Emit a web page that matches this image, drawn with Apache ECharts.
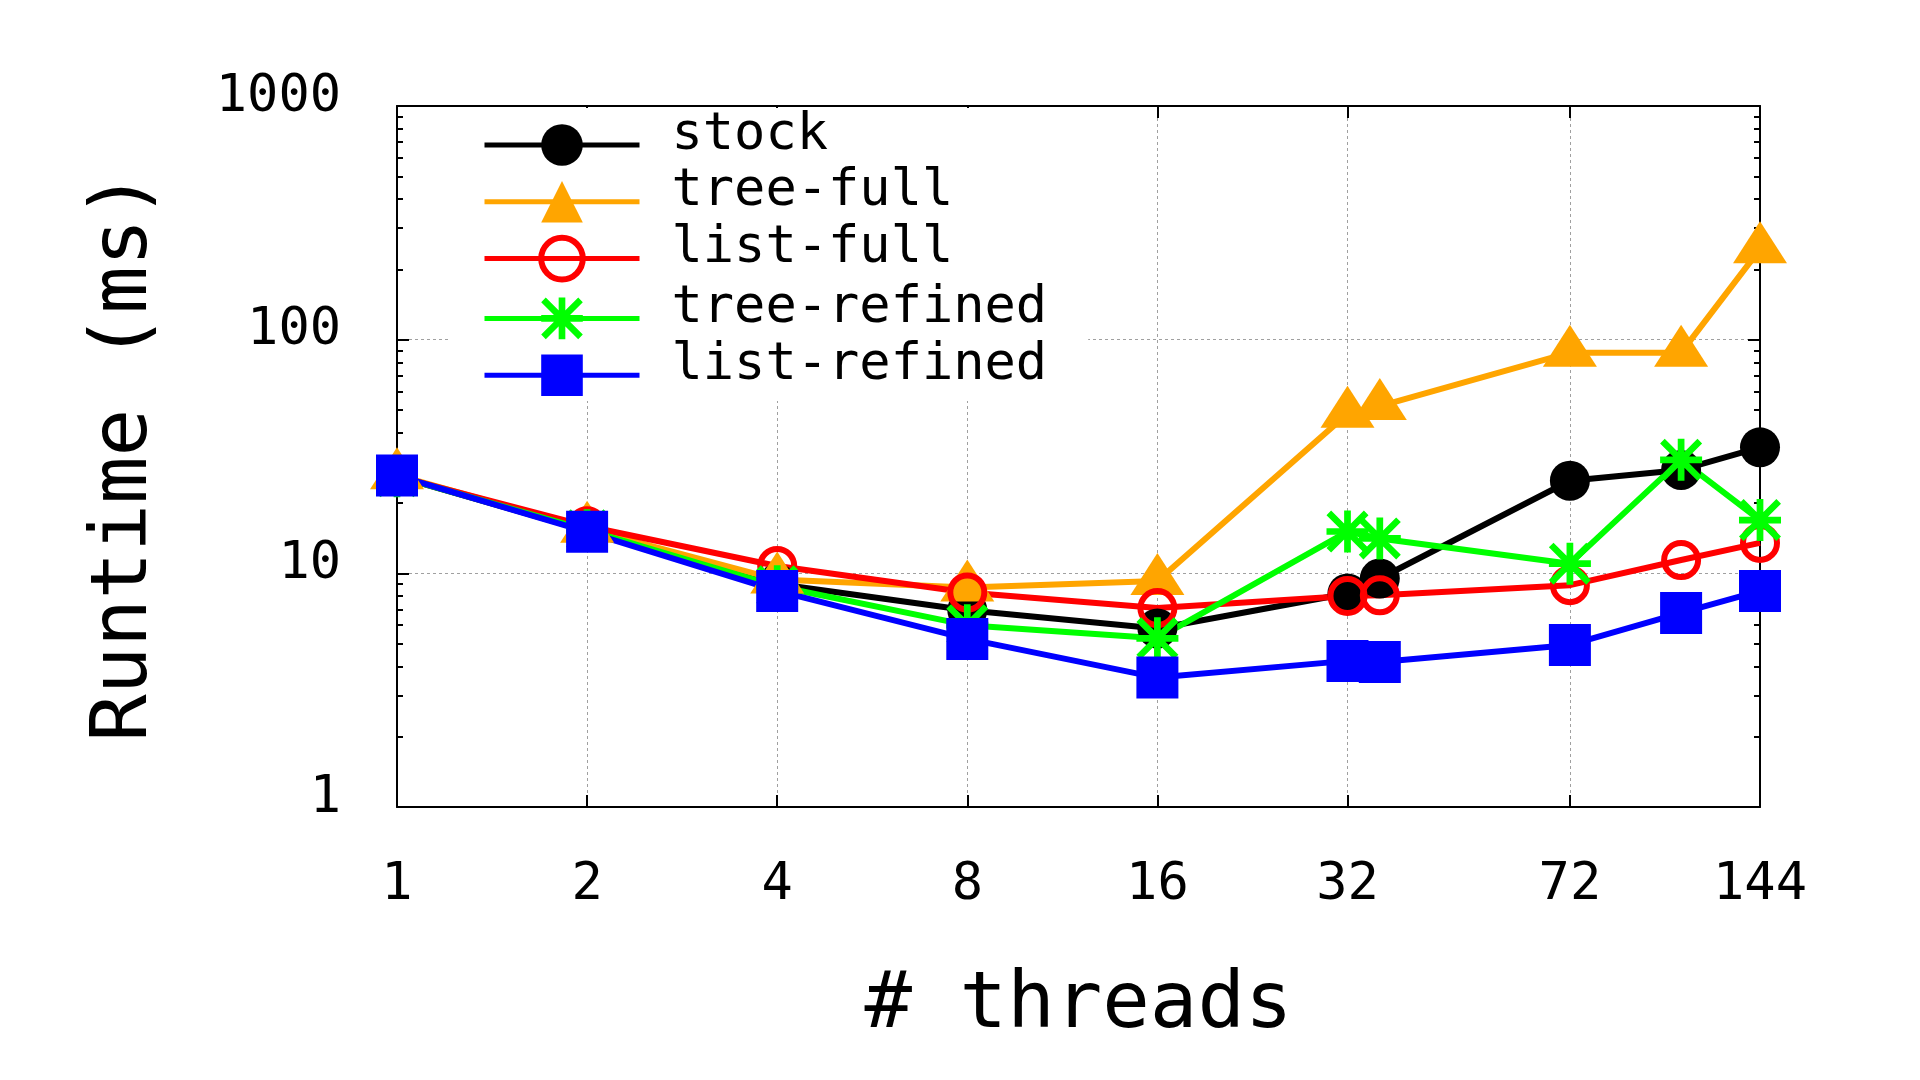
<!DOCTYPE html>
<html><head><meta charset="utf-8">
<script src="https://cdn.jsdelivr.net/npm/echarts@6/dist/echarts.min.js"></script>
<style>html,body{margin:0;padding:0;background:#fff}#c{width:1920px;height:1080px}</style>
</head><body><div id="c"></div>
<script>
// ---- data ----
const threads = [1, 2, 4, 8, 16, 32, 36, 72, 108, 144];
const xTickValues = [1, 2, 4, 8, 16, 32, 72, 144];
const xGridValues = [2, 4, 8, 16, 32, 72];
const yTickValues = [1, 10, 100, 1000];
const yMinorValues = [2,3,4,5,6,7,8,9,20,30,40,50,60,70,80,90,200,300,400,500,600,700,800,900];
const yGridValues = [10, 100];
const seriesNames = ['stock', 'tree-full', 'list-full', 'tree-refined', 'list-refined'];
const stock       = [26.0, 15.2, 9.0, 6.95, 5.81, 8.2, 9.5, 24.9, 27.7, 34.6];
const treeFull    = [26.3, 15.5, 9.4, 8.69, 9.28, 48.2, 52.0, 88.0, 88.0, 244];
const listFull    = [26.0, 15.9, 10.75, 8.28, 7.10, 8.0, 8.05, 8.9, 11.4, 13.5];
const treeRefined = [26.0, 15.3, 8.8, 6.0, 5.27, 15.1, 14.1, 11.0, 30.6, 16.9];
const listRefined = [26.2, 15.06, 8.41, 5.24, 3.58, 4.22, 4.17, 4.94, 6.77, 8.41];

const FONT = 'DejaVu Sans Mono';
const starPath = 'path://M42,0L58,0L58,100L42,100Z M0,42L100,42L100,58L0,58Z M0,11L11,0L100,89L89,100Z M89,0L100,11L11,100L0,89Z';
const pairs = arr => threads.map((t, i) => [t, arr[i]]);

const chart = echarts.init(document.getElementById('c'), null, {renderer: 'canvas'});
const tickStyle = {color: '#000', width: 2};
const gridLine = {show: true, lineStyle: {color: '#a0a0a0', width: 1, type: [3, 3]}};

function xAx(extra) {
  return Object.assign({
    type: 'log', logBase: 2, min: 1, max: 144, gridIndex: 0,
    axisLine: {show: false, onZero: false}, axisTick: {show: false},
    axisLabel: {show: false}, splitLine: {show: false}
  }, extra);
}
function yAx(extra) {
  return Object.assign({
    type: 'log', logBase: 10, min: 1, max: 1000, gridIndex: 0,
    axisLine: {show: false, onZero: false}, axisTick: {show: false},
    axisLabel: {show: false}, splitLine: {show: false}
  }, extra);
}

const option = {
  animation: false,
  backgroundColor: '#fff',
  grid: {left: 397, right: 160, top: 106, bottom: 273, show: false},
  xAxis: [
    xAx({position: 'bottom',
      axisLine: {show: true, onZero: false, lineStyle: tickStyle},
      axisTick: {show: true, inside: true, length: 12, lineStyle: tickStyle, customValues: xTickValues},
      axisLabel: {show: true, customValues: xTickValues, margin: 52, fontFamily: FONT, fontSize: 52, color: '#000',
        formatter: v => String(Math.round(v))},
      name: '# threads', nameLocation: 'middle', nameGap: 160,
      nameTextStyle: {fontFamily: FONT, fontSize: 79, color: '#000'}
    }),
    xAx({position: 'top',
      axisLine: {show: true, onZero: false, lineStyle: tickStyle},
      axisTick: {show: true, inside: true, length: 12, lineStyle: tickStyle, customValues: xTickValues}
    }),
    xAx({position: 'bottom', axisTick: {show: false, customValues: xGridValues}, splitLine: gridLine})
  ],
  yAxis: [
    yAx({position: 'left',
      axisLine: {show: true, onZero: false, lineStyle: tickStyle},
      axisTick: {show: true, inside: true, length: 12, lineStyle: tickStyle, customValues: yTickValues},
      axisLabel: {show: true, customValues: yTickValues, margin: 56, fontFamily: FONT, fontSize: 52, color: '#000',
        formatter: v => '{a|' + String(Math.round(v)) + '}',
        rich: {a: {fontFamily: FONT, fontSize: 52, color: '#000', padding: [0, 0, 18, 0]}}},
      name: 'Runtime (ms)', nameLocation: 'middle', nameGap: 232,
      nameTextStyle: {fontFamily: FONT, fontSize: 79, color: '#000'}
    }),
    yAx({position: 'right',
      axisLine: {show: true, onZero: false, lineStyle: tickStyle},
      axisTick: {show: true, inside: true, length: 12, lineStyle: tickStyle, customValues: yTickValues}
    }),
    yAx({position: 'left',
      axisTick: {show: true, inside: true, length: 6, lineStyle: tickStyle, customValues: yMinorValues}
    }),
    yAx({position: 'right',
      axisTick: {show: true, inside: true, length: 6, lineStyle: tickStyle, customValues: yMinorValues}
    }),
    yAx({position: 'left', axisTick: {show: false, customValues: yGridValues}, splitLine: gridLine})
  ],
  legend: {
    orient: 'vertical', left: 450, top: 108, padding: [1, 41, 5, 32],
    backgroundColor: '#fff', itemWidth: 155, itemHeight: 52, itemGap: 0,
    selectedMode: false,
    itemStyle: {borderWidth: 'inherit'},
    lineStyle: {width: 5},
    formatter: name => '{a|' + name + '}',
    textStyle: {fontFamily: FONT, fontSize: 52, color: '#000',
      rich: {a: {fontFamily: FONT, fontSize: 52, color: '#000', padding: [0, 0, 20, 27]}}},
    data: seriesNames
  },
  series: [
    {name: seriesNames[0], type: 'line', data: pairs(stock), clip: false,
     symbol: 'circle', symbolSize: 40, color: '#000000',
     lineStyle: {width: 6, color: '#000000'}, itemStyle: {color: '#000000'}},
    {name: seriesNames[1], type: 'line', data: pairs(treeFull), clip: false,
     symbol: 'triangle', symbolSize: [54, 42], symbolOffset: [0, -7], color: '#ffa500',
     lineStyle: {width: 6, color: '#ffa500'}, itemStyle: {color: '#ffa500'}},
    {name: seriesNames[2], type: 'line', data: pairs(listFull), clip: false,
     symbol: 'circle', symbolSize: 34, color: '#ff0000',
     lineStyle: {width: 6, color: '#ff0000'},
     itemStyle: {color: 'rgba(255,255,255,0)', borderColor: '#ff0000', borderWidth: 6}},
    {name: seriesNames[3], type: 'line', data: pairs(treeRefined), clip: false,
     symbol: starPath, symbolSize: 42, color: '#00ff00',
     lineStyle: {width: 6, color: '#00ff00'}, itemStyle: {color: '#00ff00'}},
    {name: seriesNames[4], type: 'line', data: pairs(listRefined), clip: false,
     symbol: 'rect', symbolSize: 42, color: '#0000ff',
     lineStyle: {width: 6, color: '#0000ff'}, itemStyle: {color: '#0000ff'}}
  ]
};
chart.setOption(option);
</script>
</body></html>
